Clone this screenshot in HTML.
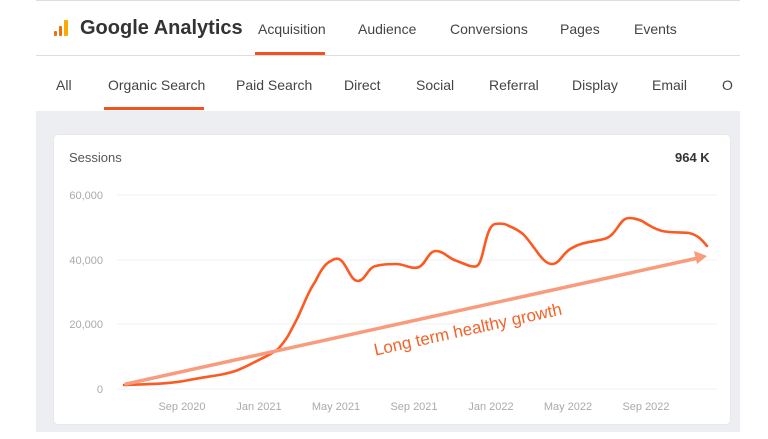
<!DOCTYPE html>
<html><head><meta charset="utf-8"><style>
body{margin:0;width:768px;height:439px;background:#fff;position:relative;overflow:hidden;font-family:"Liberation Sans",sans-serif;}
.a{position:absolute;}
.nav{font-size:14px;color:#444;}
</style></head><body>
<div class="a" style="left:36px;top:0;width:704px;height:1px;background:#ddd"></div>
<div class="a" style="left:54px;top:31px;width:3px;height:5px;background:#e8710a;border-radius:1px"></div>
<div class="a" style="left:59px;top:26px;width:3px;height:10px;background:#e8710a;border-radius:1px"></div>
<div class="a" style="left:64px;top:20px;width:4px;height:16px;background:#f9ab00;border-radius:1px"></div>
<div class="a" style="left:80px;top:17px;font-size:20px;font-weight:bold;color:#333">Google Analytics</div>
<div class="a nav" style="left:258px;top:21px;">Acquisition</div>
<div class="a" style="left:255px;top:52px;width:70px;height:3px;background:#f4511e"></div>
<div class="a nav" style="left:358px;top:21px;">Audience</div>
<div class="a nav" style="left:450px;top:21px;">Conversions</div>
<div class="a nav" style="left:560px;top:21px;">Pages</div>
<div class="a nav" style="left:634px;top:21px;">Events</div>
<div class="a" style="left:36px;top:55px;width:704px;height:1px;background:#ddd"></div>
<div class="a nav" style="left:56px;top:77px;">All</div>
<div class="a nav" style="left:108px;top:77px;">Organic Search</div>
<div class="a" style="left:104px;top:107px;width:100px;height:3px;background:#f4511e"></div>
<div class="a nav" style="left:236px;top:77px;">Paid Search</div>
<div class="a nav" style="left:344px;top:77px;">Direct</div>
<div class="a nav" style="left:416px;top:77px;">Social</div>
<div class="a nav" style="left:489px;top:77px;">Referral</div>
<div class="a nav" style="left:572px;top:77px;">Display</div>
<div class="a nav" style="left:652px;top:77px;">Email</div>
<div class="a nav" style="left:722px;top:77px;">O</div>
<div class="a" style="left:36px;top:111px;width:704px;height:321px;background:#eceef1"></div>
<div class="a" style="left:54px;top:135px;width:676px;height:289px;background:#fff;border-radius:4px;box-shadow:0 0 1px #ccc"></div>
<div class="a" style="left:69px;top:150px;font-size:13px;color:#555">Sessions</div>
<div class="a" style="left:675px;top:150px;font-size:13px;font-weight:bold;color:#333">964 K</div>
<svg class="a" style="left:0;top:0" width="768" height="439">
<g stroke="#f1f2f4" stroke-width="1">
<line x1="117" y1="195" x2="717" y2="195"/><line x1="117" y1="260" x2="717" y2="260"/><line x1="117" y1="324" x2="717" y2="324"/><line x1="117" y1="389" x2="717" y2="389"/></g>
<g font-size="11" fill="#aaa" text-anchor="end"><text x="103" y="199">60,000</text><text x="103" y="264">40,000</text><text x="103" y="328">20,000</text><text x="103" y="393">0</text></g>
<g font-size="11" fill="#aaa" text-anchor="middle"><text x="182" y="410">Sep 2020</text><text x="259" y="410">Jan 2021</text><text x="336" y="410">May 2021</text><text x="414" y="410">Sep 2021</text><text x="491" y="410">Jan 2022</text><text x="568" y="410">May 2022</text><text x="646" y="410">Sep 2022</text></g>
<path d="M124,385 C150,384 170,384 189,380 C210,376 225,375 238,370 C250,365 258,360 265,357 C272,353 275,352 279,348 C288,338 290,332 297,319 C305,302 308,292 315,282 C320,272 324,265 329,262 C334,259 336,258 339,259 C347,263 350,281 358,281 C365,281 368,267 376,266 C383,264 390,264 396,264 C405,264 412,270 419,267 C426,264 428,251 436,251 C444,251 449,259 457,261 C465,264 472,268 477,266 C484,262 485,226 495,224 C502,223 506,224 509,226 C514,228 518,230 523,234 C535,246 542,264 552,264 C560,264 563,252 572,248 C582,242 592,242 604,239 C617,236 619,218 629,218 C634,218 637,219 642,221 C650,226 655,229 662,231 C672,233 680,232 689,233 C698,235 702,240 707,246" fill="none" stroke="#fc5a22" stroke-width="2.6" stroke-linecap="round"/>
<line x1="126" y1="384" x2="698" y2="258" stroke="#f99b7d" stroke-width="3.5" stroke-linecap="round"/>
<polygon points="707,256 694,251 697,264" fill="#f99b7d"/>
<text x="0" y="0" font-size="17" fill="#f4622a" text-anchor="middle" transform="translate(469,335) rotate(-12.4)">Long term healthy growth</text>
</svg>
</body></html>
